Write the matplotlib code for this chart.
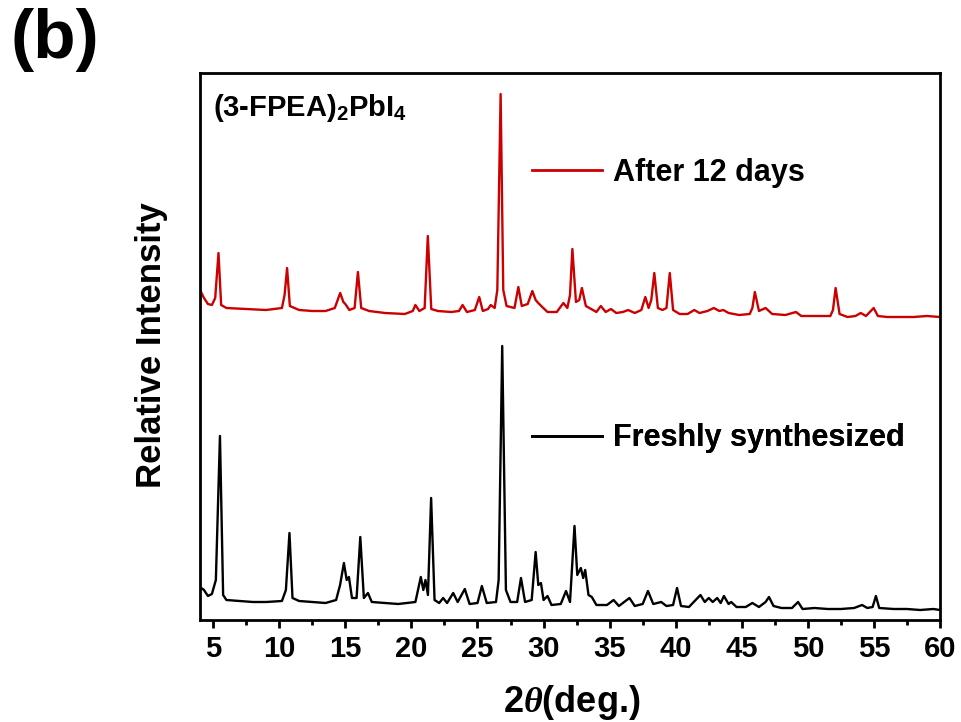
import matplotlib
matplotlib.use("Agg")
from matplotlib import pyplot as plt
from matplotlib.lines import Line2D

# --- fresh sample trace (2theta in deg., relative intensity) --- #
fresh_x = [4.0, 4.3, 4.6, 4.9, 5.2, 5.51, 5.75, 6.0, 7.0, 8.0, 9.0, 10.2, 10.5, 10.77, 11.0,
           11.5, 12.5, 13.5, 14.3, 14.6, 14.89, 15.1, 15.27, 15.5, 15.85, 16.13, 16.4, 16.71,
           17.0, 18.0, 19.0, 20.3, 20.71, 20.9, 21.06, 21.25, 21.49, 21.75, 22.1, 22.4, 22.7,
           23.16, 23.5, 24.04, 24.4, 25.0, 25.33, 25.7, 26.4, 26.6, 26.87, 27.15, 27.5, 28.0,
           28.29, 28.6, 29.1, 29.4, 29.6, 29.8, 30.0, 30.3, 30.6, 31.3, 31.7, 32.0, 32.34,
           32.55, 32.82, 33.0, 33.15, 33.4, 33.65, 34.0, 34.8, 35.3, 35.7, 36.5, 36.9, 37.5,
           37.9, 38.3, 38.9, 39.3, 39.8, 40.1, 40.4, 41.0, 41.87, 42.2, 42.5, 42.8, 43.14,
           43.4, 43.65, 44.0, 44.2, 44.6, 45.3, 45.8, 46.3, 46.8, 47.06, 47.4, 48.0, 48.8,
           49.26, 49.6, 50.5, 51.5, 52.5, 53.5, 54.1, 54.5, 54.9, 55.15, 55.4, 56.5, 57.5,
           58.5, 59.5, 60.0]
fresh_y = [33, 30, 24, 26, 40, 184, 25, 20, 19, 18, 18, 19, 30, 87, 22,
           19, 18, 17, 20, 35, 57, 40, 43, 22, 22, 83, 22, 27,
           18, 17, 16, 18, 43, 30, 40, 25, 122, 20, 17, 22, 17,
           27, 18, 31, 16, 17, 34, 17, 18, 40, 274, 30, 18, 18,
           42, 18, 20, 68, 35, 37, 20, 24, 15, 16, 29, 18, 94,
           45, 52, 42, 50, 25, 23, 15, 15, 20, 14, 22, 14, 16,
           29, 16, 18, 14, 15, 32, 14, 13, 25, 18, 22, 18, 22,
           17, 24, 16, 18, 13, 13, 17, 13, 18, 23, 14, 12, 12,
           18, 11, 12, 11, 11, 12, 15, 12, 13, 24, 12, 11, 11,
           10, 11, 10]

# --- same film after 12 days (already offset upwards) --- #
aged_x = [4.0, 4.3, 4.6, 4.9, 5.15, 5.4, 5.6, 6.0, 7.5, 9.0, 10.2, 10.4, 10.59, 10.8, 11.5,
          12.5, 13.5, 14.2, 14.61, 14.85, 15.0, 15.3, 15.7, 15.95, 16.2, 16.8, 18.0, 19.5,
          20.1, 20.3, 20.6, 21.0, 21.24, 21.5, 22.0, 23.0, 23.6, 23.87, 24.2, 24.8, 25.13,
          25.4, 25.8, 26.0, 26.3, 26.5, 26.75, 26.95, 27.2, 27.8, 28.09, 28.35, 28.8, 29.15,
          29.4, 29.6, 29.9, 30.3, 31.0, 31.5, 31.8, 32.0, 32.18, 32.45, 32.7, 32.9, 33.2,
          33.6, 34.0, 34.33, 34.7, 35.1, 35.5, 36.0, 36.4, 36.9, 37.4, 37.7, 37.95, 38.15,
          38.38, 38.65, 39.0, 39.3, 39.55, 39.8, 40.3, 40.9, 41.4, 41.8, 42.4, 42.88, 43.3,
          43.6, 44.0, 44.8, 45.6, 45.8, 45.99, 46.3, 46.8, 47.3, 48.3, 49.1, 49.5, 50.5,
          51.7, 51.9, 52.1, 52.4, 53.0, 53.6, 54.0, 54.4, 54.98, 55.3, 56.0, 57.0, 58.0,
          59.0, 60.0]
aged_y = [330, 322, 316, 315, 322, 367, 315, 312, 311, 310, 312, 325, 352, 314, 310,
          309, 309, 312, 327, 318, 316, 310, 312, 348, 312, 309, 307, 306,
          309, 315, 309, 312, 384, 311, 309, 308, 309, 315, 308, 310, 323,
          309, 311, 315, 312, 330, 526, 330, 314, 312, 333, 314, 316, 329,
          320, 317, 313, 308, 308, 317, 312, 325, 371, 318, 320, 332, 314,
          311, 308, 314, 308, 311, 307, 308, 310, 307, 310, 323, 312, 320,
          347, 312, 310, 312, 347, 310, 306, 306, 310, 307, 309, 312, 309,
          310, 307, 305, 306, 312, 328, 309, 312, 306, 305, 308, 304, 304,
          304, 310, 332, 306, 303, 304, 307, 304, 312, 304, 303, 303, 303,
          304, 303]

x_ticks = [5, 10, 15, 20, 25, 30, 35, 40, 45, 50, 55, 60]
labels = ["After 12 days", "Freshly synthesized"]
colors = ["#cc0000", "black"]

plt.rcParams['font.family'] = ['Liberation Sans', 'DejaVu Sans']
plt.rcParams['font.weight'] = 'bold'
plt.rcParams['mathtext.fontset'] = 'custom'
plt.rcParams['mathtext.bf'] = 'Liberation Sans:bold'
plt.rcParams['mathtext.it'] = 'Liberation Serif:italic'
plt.rcParams['mathtext.rm'] = 'Liberation Sans:bold'


def main():
    fig = plt.figure(figsize=(9.62, 7.22), dpi=100)
    ax = fig.add_axes([200 / 962, 1 - 620 / 722, 740 / 962, 547 / 722])

    ax.plot(aged_x, aged_y, color=colors[0], lw=1.7)
    ax.plot(fresh_x, fresh_y, color=colors[1], lw=1.7)

    ax.set_xlim(4, 60)
    ax.set_ylim(0, 547)
    ax.set_xticks(x_ticks)
    ax.set_xticks([t + 2.5 for t in x_ticks[:-1]], minor=True)
    ax.set_yticks([])
    ax.tick_params(axis='x', which='major', direction='out', length=6, width=2,
                   labelsize=21, pad=5)
    ax.tick_params(axis='x', which='minor', direction='out', length=3.5, width=2)
    for s in ax.spines.values():
        s.set_linewidth(2)

    # --- two separate legends, one per trace --- #
    leg_pos = [(0.4486, 0.818), (0.4486, 0.332)]
    for i in range(2):
        h = Line2D([], [], color=colors[i], lw=2)
        leg = ax.legend([h], [labels[i]], loc='center left', bbox_to_anchor=leg_pos[i],
                        frameon=False, borderpad=0, borderaxespad=0, handlelength=2.3,
                        handletextpad=0.35, prop={'size': 22, 'weight': 'bold'})
        ax.add_artist(leg)

    ax.text(0.018, 0.921, r'(3-FPEA)$_{\mathbf{2}}$PbI$_{\mathbf{4}}$', transform=ax.transAxes,
            fontsize=21, fontweight='bold', va='baseline', ha='left')

    fig.text(152 / 962, 1 - 345 / 722, "Relative Intensity", rotation=90, ha='center',
             va='center', fontsize=25, fontweight='bold')
    fig.text(572 / 962, 1 - 702 / 722, r'2$\theta$(deg.)', ha='center', va='center',
             fontsize=26, fontweight='bold')
    fig.text(10 / 962, 1 - 8 / 722, "(b)", ha='left', va='top', fontsize=50, fontweight='bold')

    fig.savefig("out.png", dpi=100)


if __name__ == '__main__':
    main()
